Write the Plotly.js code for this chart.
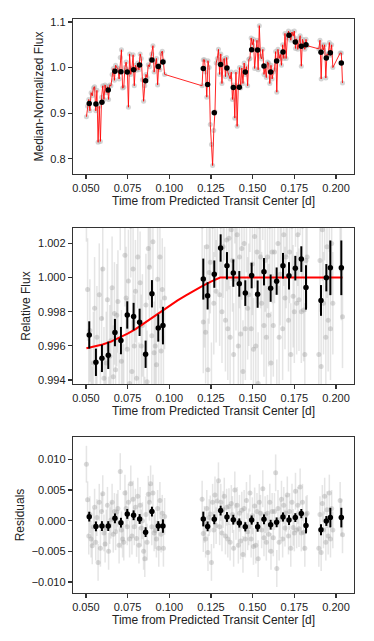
<!DOCTYPE html>
<html>
<head>
<meta charset="utf-8">
<script src="https://cdn.plot.ly/plotly-3.0.1.min.js"></script>
<style>
  html, body { margin: 0; padding: 0; background: #fff; }
  #chart { width: 374px; height: 641px; }
</style>
</head>
<body>
<div id="chart"></div>
<script>
// raw exposures: time [d], median-normalized flux, detrended relative flux, residual
const tRaw = [
  0.0503, 0.0510, 0.0517, 0.0524, 0.0531, 0.0538, 0.0545, 0.0552, 0.0559, 0.0566, 0.0573, 0.0580,
  0.0587, 0.0594, 0.0601, 0.0608, 0.0615, 0.0622, 0.0629, 0.0636, 0.0643, 0.0650, 0.0657, 0.0664,
  0.0671, 0.0678, 0.0685, 0.0692, 0.0699, 0.0706, 0.0713, 0.0720, 0.0727, 0.0734, 0.0741, 0.0748,
  0.0755, 0.0762, 0.0769, 0.0776, 0.0783, 0.0790, 0.0797, 0.0804, 0.0811, 0.0818, 0.0825, 0.0832,
  0.0839, 0.0846, 0.0853, 0.0860, 0.0867, 0.0874, 0.0881, 0.0888, 0.0895, 0.0902, 0.0909, 0.0916,
  0.0923, 0.0930, 0.0937, 0.0944, 0.0951, 0.0958, 0.0965, 0.0972,
  0.1197, 0.1204, 0.1211, 0.1218, 0.1225, 0.1232, 0.1239, 0.1246, 0.1253, 0.1260, 0.1267, 0.1274,
  0.1281, 0.1288, 0.1295, 0.1302, 0.1309, 0.1316, 0.1323, 0.1330, 0.1337, 0.1344, 0.1351, 0.1358,
  0.1365, 0.1372, 0.1379, 0.1386, 0.1393, 0.1400, 0.1407, 0.1414, 0.1421, 0.1428, 0.1435, 0.1442,
  0.1449, 0.1456, 0.1463, 0.1470, 0.1477, 0.1484, 0.1491, 0.1498, 0.1505, 0.1512, 0.1519, 0.1526,
  0.1533, 0.1540, 0.1547, 0.1554, 0.1561, 0.1568, 0.1575, 0.1582, 0.1589, 0.1596, 0.1603, 0.1610,
  0.1617, 0.1624, 0.1631, 0.1638, 0.1645, 0.1652, 0.1659, 0.1666, 0.1673, 0.1680, 0.1687, 0.1694,
  0.1701, 0.1708, 0.1715, 0.1722, 0.1729, 0.1736, 0.1743, 0.1750, 0.1757, 0.1764, 0.1771, 0.1778,
  0.1785, 0.1792, 0.1799, 0.1806, 0.1813, 0.1820, 0.1827,
  0.1897, 0.1904, 0.1911, 0.1918, 0.1925, 0.1932, 0.1939, 0.1946, 0.1953, 0.1960, 0.1967, 0.1974,
  0.1981, 0.2025, 0.2032, 0.2039
];
const fluxRaw = [
  0.892, 0.915, 0.930, 0.905, 0.945, 0.938, 0.955, 0.958, 0.905, 0.950, 0.836, 0.915,
  0.838, 0.935, 0.960, 0.930, 0.962, 0.945, 0.958, 0.930, 0.962, 0.960, 0.985, 0.998,
  0.972, 1.005, 1.000, 0.998, 0.975, 1.022, 1.039, 0.955, 0.957, 1.000, 1.012, 0.995,
  0.913, 1.030, 0.985, 0.998, 1.028, 0.960, 1.005, 0.994, 1.010, 0.995, 1.030, 1.020,
  0.973, 0.926, 0.960, 0.985, 0.978, 1.006, 1.002, 1.018, 1.030, 1.048, 0.990, 1.012,
  1.020, 0.962, 1.005, 0.995, 1.031, 1.036, 1.015, 0.985,
  0.960, 1.017, 1.017, 0.990, 0.935, 1.015, 1.000, 0.875, 0.831, 0.785, 0.862, 0.903,
  1.010, 1.020, 1.040, 0.985, 1.030, 0.965, 1.015, 1.020, 0.980, 1.022, 0.990, 0.983,
  0.975, 0.990, 0.930, 0.962, 0.889, 0.990, 0.871, 0.960, 1.000, 0.955, 0.999, 0.965,
  1.010, 0.985, 1.002, 0.960, 1.018, 1.020, 1.065, 1.050, 1.062, 0.998, 1.040, 1.060,
  0.995, 1.092, 1.025, 1.019, 1.040, 0.985, 1.000, 0.978, 1.012, 1.010, 0.965, 1.005,
  0.975, 0.990, 0.995, 1.035, 0.946, 1.040, 1.020, 1.029, 1.005, 1.050, 1.020, 1.075,
  1.020, 1.065, 1.080, 1.072, 1.060, 1.078, 1.069, 1.080, 1.042, 1.063, 1.040, 1.055,
  1.070, 1.003, 1.062, 1.053, 1.040, 1.062, 1.048,
  1.041, 1.060, 0.975, 1.050, 1.039, 1.050, 0.977, 1.030, 1.027, 1.055, 1.027, 1.050,
  1.000, 1.032, 1.032, 0.966
];
const relRaw = [
  1.0051, 0.9993, 0.9934, 0.9969, 0.9929, 0.9918, 0.9950, 0.9982, 0.9925, 0.9965, 0.9892, 0.9990,
  0.9916, 0.9976, 1.0005, 0.9941, 0.9923, 0.9950, 0.9987, 0.9912, 0.9954, 0.9963, 0.9994, 0.9942,
  0.9979, 0.9946, 0.9978, 0.9986, 0.9926, 1.0046, 0.9951, 0.9936, 0.9931, 1.0013, 0.9988, 0.9958,
  0.9998, 0.9938, 1.0030, 0.9945, 1.0005, 0.9960, 0.9992, 0.9941, 1.0012, 0.9932, 0.9997, 0.9960,
  0.9972, 0.9924, 0.9912, 0.9984, 0.9939, 1.0017, 1.0006, 1.0036, 0.9966, 1.0021, 0.9956, 0.9960,
  0.9949, 0.9999, 0.9934, 1.0012, 0.9957, 0.9993, 0.9936, 0.9988,
  1.0030, 0.9974, 0.9989, 0.9968, 1.0018, 0.9946, 1.0003, 1.0009, 0.9932, 1.0030, 0.9985, 1.0042,
  0.9992, 1.0032, 1.0065, 0.9990, 1.0030, 0.9980, 1.0018, 1.0040, 0.9975, 1.0022, 0.9970, 1.0023,
  0.9965, 1.0028, 1.0010, 0.9955, 1.0050, 0.9999, 1.0025, 0.9960, 1.0012, 0.9967, 1.0017, 0.9945,
  1.0020, 0.9970, 1.0033, 0.9982, 0.9990, 1.0045, 0.9970, 1.0008, 0.9958, 1.0024, 0.9960, 1.0015,
  0.9938, 1.0030, 1.0012, 0.9985, 1.0052, 0.9972, 1.0010, 0.9965, 1.0012, 0.9978, 1.0030, 0.9950,
  1.0015, 0.9972, 1.0015, 1.0078, 0.9922, 1.0020, 0.9965, 1.0002, 1.0035, 0.9970, 1.0025, 0.9988,
  1.0012, 1.0042, 0.9975, 1.0015, 0.9955, 1.0030, 0.9989, 0.9980, 1.0048, 0.9985, 1.0025, 0.9987,
  1.0055, 0.9980, 1.0030, 0.9981, 0.9955, 1.0010, 1.0012,
  0.9955, 1.0010, 0.9948, 1.0028, 0.9985, 1.0040, 0.9965, 1.0018, 0.9975, 1.0045, 0.9970, 1.0020,
  0.9985, 1.0033, 1.0005, 0.9977
];
const residRaw = [
  0.0092, 0.0034, -0.0025, 0.0010, -0.0030, -0.0041, -0.0010, 0.0022, -0.0035, 0.0005, -0.0068, 0.0030,
  -0.0045, 0.0015, 0.0044, -0.0020, -0.0038, -0.0012, 0.0025, -0.0050, -0.0008, 0.0001, 0.0030, -0.0022,
  0.0015, -0.0018, 0.0014, 0.0020, -0.0040, 0.0080, -0.0015, -0.0030, -0.0035, 0.0045, 0.0020, -0.0010,
  0.0030, -0.0030, 0.0060, -0.0025, 0.0035, -0.0010, 0.0022, -0.0029, 0.0040, -0.0040, 0.0025, -0.0012,
  0.0000, -0.0050, -0.0062, 0.0010, -0.0035, 0.0043, 0.0030, 0.0060, -0.0010, 0.0045, -0.0020, -0.0016,
  -0.0030, 0.0020, -0.0045, 0.0033, -0.0022, 0.0012, -0.0045, 0.0007,
  0.0035, -0.0021, -0.0006, -0.0030, 0.0020, -0.0052, 0.0005, 0.0011, -0.0068, 0.0030, -0.0015, 0.0042,
  -0.0008, 0.0032, 0.0065, -0.0010, 0.0030, -0.0020, 0.0018, 0.0040, -0.0025, 0.0022, -0.0030, 0.0023,
  -0.0035, 0.0028, 0.0010, -0.0045, 0.0050, -0.0001, 0.0025, -0.0040, 0.0012, -0.0033, 0.0017, -0.0055,
  0.0020, -0.0030, 0.0033, -0.0018, -0.0010, 0.0045, -0.0030, 0.0008, -0.0042, 0.0024, -0.0040, 0.0015,
  -0.0062, 0.0030, 0.0012, -0.0015, 0.0052, -0.0028, 0.0010, -0.0035, 0.0012, -0.0022, 0.0030, -0.0050,
  0.0015, -0.0028, 0.0015, 0.0078, -0.0078, 0.0020, -0.0035, 0.0002, 0.0035, -0.0030, 0.0025, -0.0012,
  0.0012, 0.0042, -0.0025, 0.0015, -0.0045, 0.0030, -0.0011, -0.0020, 0.0048, -0.0015, 0.0025, -0.0013,
  0.0055, -0.0020, 0.0030, -0.0019, -0.0045, 0.0010, 0.0012,
  -0.0045, 0.0010, -0.0052, 0.0028, -0.0015, 0.0040, -0.0035, 0.0018, -0.0025, 0.0045, -0.0030, 0.0020,
  -0.0015, 0.0033, 0.0005, -0.0023
];
const rawErr = 0.003;

// binned points
const tBin = [
  0.0520, 0.0560, 0.0596, 0.0634, 0.0674, 0.0710, 0.0748, 0.0786, 0.0822, 0.0858, 0.0896, 0.0934,
  0.0962, 0.1204, 0.1230, 0.1270, 0.1308, 0.1346, 0.1384, 0.1420, 0.1456, 0.1494, 0.1530, 0.1568,
  0.1608, 0.1644, 0.1682, 0.1718, 0.1756, 0.1792, 0.1820, 0.1910, 0.1942, 0.1966, 0.2032
];
const fluxBin = [
  0.921, 0.920, 0.924, 0.951, 0.992, 0.991, 0.990, 0.995, 1.0056, 0.971, 1.0166, 1.0026,
  1.012, 0.998, 0.963, 0.901, 1.007, 0.999, 0.956, 0.957, 0.990, 1.039, 1.0385, 1.0034,
  0.990, 1.0144, 1.034, 1.0707, 1.056, 1.0466, 1.050, 1.0334, 1.021, 1.0327, 1.010
];
const relBin = [
  0.99664, 0.99504, 0.99527, 0.99545, 0.99678, 0.99631, 0.99781, 0.99772, 0.99738, 0.99551, 0.99905, 0.99705,
  0.99719, 0.99991, 0.99893, 1.00020, 1.00173, 1.00069, 1.00026, 0.99963, 0.99909, 1.00012, 0.99903, 1.00034,
  0.99938, 0.99979, 1.00069, 1.00010, 1.00055, 1.00108, 0.99942, 0.99866, 0.99999, 1.00057, 1.00057
];
const residBin = [
  0.00066, -0.00093, -0.00088, -0.00088, 0.00038, -0.00033, 0.00110, 0.00088, 0.00027, -0.00187, 0.00148, -0.00088,
  -0.00088, 0.00027, -0.00093, 0.00022, 0.00165, 0.00060, 0.00016, -0.00038, -0.00100, 0.00010, -0.00100, 0.00022,
  -0.00066, -0.00027, 0.00060, 0.00010, 0.00050, 0.00115, -0.00077, -0.00148, -0.00005, 0.00050, 0.00050
];
const binErr = [
  0.0008, 0.0008, 0.0008, 0.0008, 0.0008, 0.0008, 0.0008, 0.0008, 0.0008, 0.0008, 0.0008, 0.0008,
  0.0011, 0.0012, 0.0008, 0.0008, 0.0008, 0.0008, 0.0008, 0.00075, 0.00075, 0.00075, 0.0008, 0.0008,
  0.0008, 0.0008, 0.00075, 0.0008, 0.00072, 0.00075, 0.0013, 0.0009, 0.0008, 0.0016, 0.0016
];

// transit model
const tModel = [0.0503, 0.055, 0.060, 0.065, 0.070, 0.075, 0.080, 0.085, 0.090, 0.095, 0.100, 0.105,
  0.110, 0.115, 0.120, 0.125, 0.1305, 0.140, 0.160, 0.180, 0.2039];
const fModel = [0.99586, 0.99595, 0.99608, 0.99625, 0.99647, 0.99672, 0.99700, 0.99733, 0.99768, 0.99803, 0.99835, 0.99866,
  0.99896, 0.99925, 0.99951, 0.99976, 1.0, 1.0, 1.0, 1.0, 1.0];

const xTicks = [0.050, 0.075, 0.100, 0.125, 0.150, 0.175, 0.200];
const fluxTicks = [0.8, 0.9, 1.0, 1.1];
const relTicks = [0.994, 0.996, 0.998, 1.000, 1.002];
const residTicks = [-0.010, -0.005, 0.000, 0.005, 0.010];

const FONT = "Liberation Sans, Arial, Helvetica, sans-serif";
const X_TITLE = "Time from Predicted Transit Center [d]";
const GREY_PT = "rgba(150, 150, 150, 0.35)";
const GREY_BAR = "rgba(150, 150, 150, 0.25)";

function axisStyle(extra) {
  return Object.assign({
    showline: true,
    mirror: true,
    linecolor: "#333",
    linewidth: 1.2,
    ticks: "outside",
    ticklen: 4,
    tickwidth: 1.2,
    tickcolor: "#333",
    showgrid: false,
    zeroline: false,
    tickfont: { family: FONT, size: 11, color: "#222" },
  }, extra);
}

function xAxis(anchor) {
  return axisStyle({
    anchor: anchor,
    domain: [0, 1],
    range: [0.04225, 0.2108],
    tickvals: xTicks,
    tickformat: ".3f",
    title: { text: X_TITLE, font: { family: FONT, size: 12, color: "#222" }, standoff: 3 },
  });
}

function yAxis(anchor, domain, range, ticks, fmt, title) {
  return axisStyle({
    anchor: anchor,
    domain: domain,
    range: range,
    tickvals: ticks,
    tickformat: fmt,
    title: { text: title, font: { family: FONT, size: 12, color: "#222" }, standoff: 4 },
  });
}

const traces = [
  // top: raw light curve
  { type: "scatter", mode: "markers", x: tRaw, y: fluxRaw, xaxis: "x", yaxis: "y",
    marker: { size: 5, color: "rgba(170, 170, 170, 0.5)" } },
  { type: "scatter", mode: "lines", x: tRaw, y: fluxRaw, xaxis: "x", yaxis: "y",
    line: { color: "rgba(255, 0, 0, 0.85)", width: 1 } },
  { type: "scatter", mode: "markers", x: tBin, y: fluxBin, xaxis: "x", yaxis: "y",
    marker: { size: 5.5, color: "black" } },

  // middle: detrended flux + model
  { type: "scatter", mode: "markers", x: tRaw, y: relRaw, xaxis: "x2", yaxis: "y2",
    marker: { size: 5, color: GREY_PT },
    error_y: { type: "constant", value: rawErr, color: GREY_BAR, thickness: 1.5, width: 0 } },
  { type: "scatter", mode: "lines", x: tModel, y: fModel, xaxis: "x2", yaxis: "y2",
    line: { color: "#ff0000", width: 2 } },
  { type: "scatter", mode: "markers", x: tBin, y: relBin, xaxis: "x2", yaxis: "y2",
    marker: { size: 5.5, color: "black" },
    error_y: { type: "data", array: binErr, color: "black", thickness: 2, width: 0 } },

  // bottom: residuals
  { type: "scatter", mode: "markers", x: tRaw, y: residRaw, xaxis: "x3", yaxis: "y3",
    marker: { size: 5, color: GREY_PT },
    error_y: { type: "constant", value: rawErr, color: GREY_BAR, thickness: 1.5, width: 0 } },
  { type: "scatter", mode: "markers", x: tBin, y: residBin, xaxis: "x3", yaxis: "y3",
    marker: { size: 5.5, color: "black" },
    error_y: { type: "data", array: binErr, color: "black", thickness: 2, width: 0 } },
];

const layout = {
  width: 374,
  height: 641,
  margin: { l: 73, r: 20, t: 19, b: 48 },
  paper_bgcolor: "#fff",
  plot_bgcolor: "#fff",
  showlegend: false,
  hovermode: false,
  font: { family: FONT, size: 11, color: "#222" },
  xaxis: xAxis("y"),
  xaxis2: xAxis("y2"),
  xaxis3: xAxis("y3"),
  yaxis: yAxis("x", [0.72997, 1], [0.7664, 1.1066], fluxTicks, ".1f", "Median-Normalized Flux"),
  yaxis2: yAxis("x2", [0.36411, 0.63589], [0.99377, 1.0029], relTicks, ".3f", "Relative Flux"),
  yaxis3: yAxis("x3", [0, 0.27178], [-0.01179, 0.01364], residTicks, ".3f", "Residuals"),
};

Plotly.newPlot("chart", traces, layout, { displayModeBar: false, staticPlot: true });
</script>
</body>
</html>
